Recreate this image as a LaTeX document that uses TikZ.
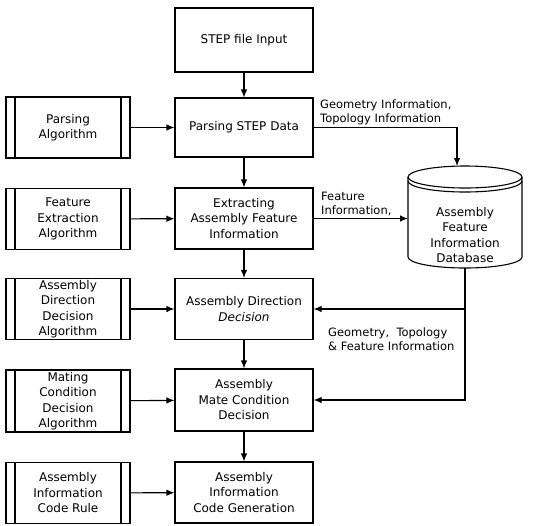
\documentclass[tikz,border=0pt]{standalone}
\usepackage{fontspec}
\setmainfont{DejaVu Sans}
\usepackage{tikz}
\usetikzlibrary{arrows.meta, calc, positioning}

\newcommand{\boxfont}{\fontsize{12}{15.5}\selectfont}
\newcommand{\lblfont}{\fontsize{11.5}{14}\selectfont}

\begin{document}
\begin{tikzpicture}[x=1pt, y=-1pt, >={Latex[length=8pt, width=6.5pt]},
    procbox/.style={draw, line width=1.1pt, minimum width=138pt, minimum height=61pt,
        align=center, inner sep=0pt, font=\boxfont},
    algbox/.style={procbox, minimum width=124pt,
        path picture={\draw[line width=1.1pt]
            ([xshift=9pt]path picture bounding box.north west) -- ([xshift=9pt]path picture bounding box.south west)
            ([xshift=-9pt]path picture bounding box.north east) -- ([xshift=-9pt]path picture bounding box.south east);}},
    lbl/.style={align=left, anchor=west, inner sep=0pt, font=\lblfont},
    link/.style={->, line width=1.1pt}]

        \useasboundingbox (0,0) rectangle (534,525);

        % main column
        \node[procbox, minimum height=64pt] (input) at (244,40) {STEP file Input};
        \node[procbox, minimum height=59pt] (parse) at (244,127.5) {Parsing STEP Data};
        \node[procbox] (extract) at (244,218.5) {Extracting\\Assembly Feature\\Information};
        \node[procbox] (direction) at (244,309) {Assembly Direction\\{\itshape Decision}};
        \node[procbox, minimum height=62pt] (mate) at (244,400) {Assembly\\Mate Condition\\Decision};
        \node[procbox] (codegen) at (244,492.5) {Assembly\\Information\\Code Generation};

        % algorithms
        \node[algbox] (parsealg) at (68,127.5) {Parsing\\Algorithm};
        \node[algbox] (featalg) at (68,219) {Feature\\Extraction\\Algorithm};
        \node[algbox] (diralg) at (68,309) {Assembly\\Direction\\Decision\\Algorithm};
        \node[algbox, minimum height=62pt] (matealg) at (68,401) {Mating\\Condition\\Decision\\Algorithm};
        \node[algbox] (coderule) at (68,493) {Assembly\\Information\\Code Rule};

        % database
        \draw[line width=1.1pt] (465,177) ellipse [x radius=57, y radius=11];
        \draw[line width=1.1pt] (408,181) arc [start angle=180, end angle=0, x radius=57, y radius=11];
        \draw[line width=1.1pt] (408,177) -- (408,257) arc [start angle=180, end angle=0, x radius=57, y radius=11] -- (522,177);
        \node[align=center, inner sep=0pt, font=\boxfont] (db) at (465,235) {Assembly\\Feature\\Information\\Database};
        \coordinate (dbtop) at (457,166);
        \coordinate (dbbot) at (465,268);
        \coordinate (dbw) at (408,218.5);

        \node[lbl] (geolbl) at (320,112) {Geometry Information,\\Topology Information};
        \node[lbl] (featlbl) at (321,203.5) {Feature\\Information,};
        \node[lbl] (gtflbl) at (328,339.5) {Geometry,\ \ Topology\\\& Feature Information};

        \draw[link] (input) -- (parse);
        \draw[link] (parse) -- (extract);
        \draw[link] (extract) -- (direction);
        \draw[link] (direction) -- (mate);
        \draw[link] (mate) -- (codegen);

        \draw[link] (parsealg) -- (parse);
        \draw[link] (featalg) -- (extract);
        \draw[link] (diralg) -- (direction);
        \draw[link] (matealg) -- (mate);
        \draw[link] (coderule) -- (codegen);

        \draw[link] (parse.east) -| (dbtop);
        \draw[link] (extract.east) -- (dbw);
        \draw[link] (dbbot) |- (mate.east);
        \draw[link] (dbbot |- direction.east) -- (direction.east);

\end{tikzpicture}
\end{document}
